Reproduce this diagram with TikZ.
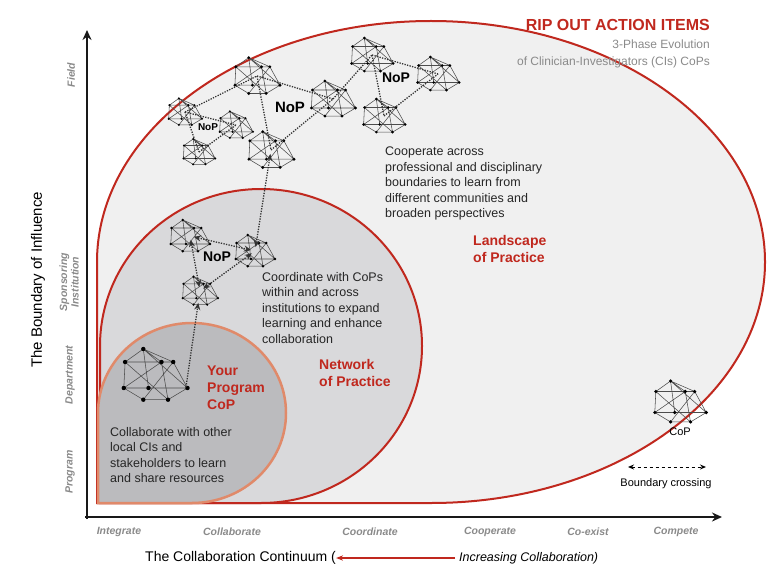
\documentclass[tikz,border=0pt]{standalone}
\usepackage{fontspec}
\setmainfont{Liberation Sans}
\usetikzlibrary{arrows.meta}
\definecolor{rred}{HTML}{C0281E}
\definecolor{corange}{HTML}{E08A6A}
\definecolor{lgray}{HTML}{F0F0F0}
\definecolor{mgray}{HTML}{D9D9DB}
\definecolor{dgray}{HTML}{BBBBBE}
\definecolor{tgray}{HTML}{8A8A8A}
\tikzset{
 netl/.style={draw=black!70, line width=0.55pt},
 net/.pic={
  \draw[netl] (-9,-20)--(-23,-10)--(-24,10)--(-9,19)--(10,19)--(25,10)--(14,-10)--(-9,-20)
   (-9,-20)--(-5,10) (-9,-20)--(25,10) (-23,-10)--(14,-10) (-23,-10)--(10,19)
   (5,-10)--(-24,10) (5,-10)--(10,19) (14,-10)--(-9,19) (-24,10)--(25,10) (5,-10)--(-9,-20);
  \foreach \p in {(-9,-20),(-23,-10),(5,-10),(14,-10),(-24,10),(-5,10),(25,10),(-9,19),(10,19)}
   \fill[black] \p circle (1.7);
 },
 conn/.style={dash pattern=on 1.3pt off 1.3pt, line width=1.3pt, black!80},
 darr/.style={conn, {Stealth[length=7pt,width=6pt]}-{Stealth[length=7pt,width=6pt]}, shorten <=4pt, shorten >=4pt},
 body/.style={font=\fontsize{12.5}{15.5}\selectfont, align=left, anchor=north west, inner sep=0pt, text=black!85},
 redlab/.style={font=\fontsize{14}{17}\selectfont\bfseries, align=left, anchor=north west, inner sep=0pt, text=rred},
 nop/.style={font=\fontsize{14}{16}\selectfont\bfseries, inner sep=0pt},
 cat/.style={font=\fontsize{10.5}{12}\selectfont\bfseries\itshape, text=tgray, inner sep=0pt},
 ax/.style={line width=2.6pt, -{Stealth[length=10pt,width=9pt]}, black!90},
}
\begin{document}
\begin{tikzpicture}[x=1pt,y=-1pt]
\useasboundingbox (0,0) rectangle (770,580);
% regions
\draw[fill=lgray, draw=rred, line width=2pt] (97,503) -- (97,262) arc[start angle=180, end angle=450, x radius=334, y radius=241] -- cycle;
\draw[fill=mgray, draw=rred, line width=2pt] (100,503) -- (100,346) arc[start angle=180, end angle=450, x radius=161, y radius=157] -- cycle;
\draw[fill=dgray, draw=corange, line width=2.5pt] (98,503) -- (98,413) arc[start angle=180, end angle=450, x radius=94, y radius=90] -- cycle;
% axes
\coordinate (O) at (87,517);
\coordinate (Ytop) at (87,30);
\coordinate (Xend) at (722,517);
\draw[ax] (87,519) -- (Ytop);
\draw[ax] (85,517) -- (Xend);
% icons
\foreach \n/\x/\y/\s in {s1/185/112/0.68, s2/236/125/0.68, s3/199/152/0.65,
  m1/257/76/0.92, m2/333/99/0.9, m3/271/150/0.92, m4/372/55/0.85, m5/438/74/0.85, m6/384/116/0.85,
  n1/190/236/0.8, n2/255/251/0.8, n3/200/291/0.72, cop/155/375/1.3, leg/680/402/1.05}
 {\coordinate (\n) at (\x,\y); \pic[scale=\s] at (\n) {net};}
\coordinate (copr) at (186,387);
% NoP connections
\draw[conn] (s1) -- (m1);
\draw[conn] (s1) -- (s2);
\draw[conn] (s1) -- (s3);
\draw[conn] (s3) -- (s2);
\draw[conn] (m1) -- (m2);
\draw[conn] (m1) -- (m3);
\draw[conn] (m3) -- (m2);
\draw[conn] (m2) -- (m4);
\draw[conn] (m4) -- (m6);
\draw[conn] (m4) -- (m5);
\draw[conn] (m6) -- (m5);
\draw[darr] (n1) -- (n2);
\draw[darr] (n1) -- (n3);
\draw[darr] (n3) -- (n2);
\draw[darr] (n2) -- (m3);
\draw[conn, -{Stealth[length=7pt,width=6pt]}, shorten >=12pt] (copr) -- (n3);
\node[nop, font=\fontsize{10}{12}\selectfont\bfseries] (nopa) at (208,127) {NoP};
\node[nop, font=\fontsize{15}{17}\selectfont\bfseries] (nopb) at (290,107) {NoP};
\node[nop] (nopc) at (396,78) {NoP};
\node[nop] (nopd) at (217,257) {NoP};
% texts
\node[body] (tland) at (385,147) {Cooperate across\\professional and disciplinary\\boundaries to learn from\\different communities and\\broaden perspectives};
\node[redlab] (lland) at (473,235) {Landscape\\of Practice};
\node[body] (tnet) at (262,272) {Coordinate with CoPs\\within and across\\institutions to expand\\learning and enhance\\collaboration};
\node[redlab] (lnet) at (319,359) {Network\\of Practice};
\node[redlab] (lcop) at (207,366) {Your\\Program\\CoP};
\node[body] (tcop) at (110,427) {Collaborate with other\\local CIs and\\stakeholders to learn\\and share resources};
% title
\node[font=\fontsize{16}{18}\selectfont\bfseries, text=rred, anchor=east, inner sep=0pt] (title) at (710,25) {RIP OUT ACTION ITEMS};
\node[font=\fontsize{12}{17}\selectfont, text=tgray, align=right, anchor=north east, inner sep=0pt] (sub) at (710,40) {3-Phase Evolution\\of Clinician-Investigators (CIs) CoPs};
% legend
\node[font=\fontsize{11}{13}\selectfont, inner sep=0pt] (legcop) at (680,432) {CoP};
\coordinate (bl) at (628,467);
\coordinate (br) at (706,467);
\draw[dashed, line width=1pt, {Stealth[length=6pt,width=5pt]}-{Stealth[length=6pt,width=5pt]}] (bl) -- (br);
\node[font=\fontsize{11}{13}\selectfont, inner sep=0pt] (legbc) at (666,484) {Boundary crossing};
% axis category labels
\node[cat, rotate=90] (cfield) at (71,75) {Field};
\node[cat, rotate=90, align=center, font=\fontsize{10.5}{11.5}\selectfont\bfseries\itshape] (cspon) at (69,282) {Sponsoring\\Institution};
\node[cat, rotate=90] (cdep) at (70,375) {Department};
\node[cat, rotate=90] (cprog) at (70,472) {Program};
\foreach \t/\x in {Integrate/119, Collaborate/232, Coordinate/370, Cooperate/490, Co-exist/588, Compete/676}
  \node[cat] (c\t) at (\x,532) {\t};
% axis titles
\node[rotate=90, font=\fontsize{15}{17}\selectfont, inner sep=0pt] (ytitle) at (38,280) {The Boundary of Influence};
\node[font=\fontsize{14}{16}\selectfont, inner sep=0pt, anchor=west] (xtitle) at (145,558) {The Collaboration Continuum (};
\coordinate (ra) at (455,558);
\draw[rred, line width=2pt, -{Stealth[length=7pt]}] (ra) -- (xtitle.east);
\node[font=\fontsize{12.5}{15}\selectfont\itshape, inner sep=0pt, anchor=west] (xinc) at (459,558) {Increasing Collaboration)};
\end{tikzpicture}
\end{document}
